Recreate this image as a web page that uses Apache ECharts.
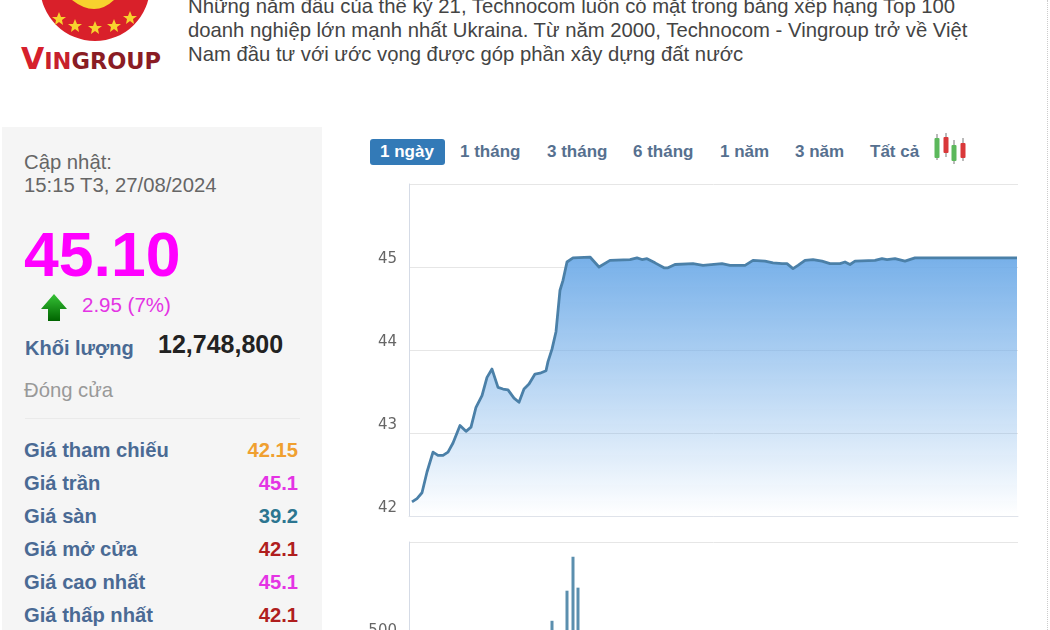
<!DOCTYPE html>
<html lang="vi">
<head>
<meta charset="utf-8">
<script src="https://cdn.jsdelivr.net/npm/echarts@6/dist/echarts.min.js"></script>
<style>
html,body{margin:0;padding:0;width:1050px;height:630px;overflow:hidden;background:#fff;font-family:"Liberation Sans",Arial,sans-serif}
.t{position:absolute;white-space:nowrap;line-height:1}
#panel{position:absolute;left:2px;top:127px;width:320px;height:503px;background:#f5f5f5}
#chart{position:absolute;left:0;top:0;width:1050px;height:760px}
#dots{position:absolute;left:1047px;top:0;height:630px;border-left:1px dotted #ccc}
#rule{position:absolute;left:25px;top:418px;width:275px;border-top:1px solid #eaeaea}
#btn{position:absolute;left:370px;top:139px;width:75px;height:26px;background:#337ab7;border-radius:3px}
.lbl{font-weight:bold;font-size:20.2px;color:#4a6a94}
.val{font-weight:bold;font-size:20.2px;text-align:right;right:752px}
.tab{font-weight:bold;font-size:17px;color:#56708f;top:143px}
</style>
</head>
<body>
<svg style="position:absolute;left:0;top:0" width="180" height="50">
  <circle cx="95" cy="-14" r="55" fill="#d9202a"/>
  <path d="M72 0 Q95 18 114 0 L112 -4 L74 -4Z" fill="#f7d22e"/>
  <g fill="#f7d22e">
    <polygon points="59,12 61,17 66,17 62,20 63,25 59,22 55,25 56,20 52,17 57,17"/>
    <polygon points="75,19 77,24 82,24 78,27 79,32 75,29 71,32 72,27 68,24 73,24"/>
    <polygon points="95,21 97,26 102,26 98,29 99,34 95,31 91,34 92,29 88,26 93,26"/>
    <polygon points="114,19 116,24 121,24 117,27 118,32 114,29 110,32 111,27 107,24 112,24"/>
    <polygon points="130,11 132,16 137,16 133,19 134,24 130,21 126,24 127,19 123,16 128,16"/>
  </g>
</svg>
<div class="t" style="left:21px;top:44px;font-weight:bold;font-family:'DejaVu Sans',sans-serif;font-size:30px;color:#c8202c"><span style="color:#d6202c">V</span><span style="font-size:22.5px;color:#c8202c">IN</span><span style="font-size:22.5px;color:#8a1c24">GROUP</span></div>
<div class="t" style="left:188px;top:-4px;font-size:20.3px;color:#444">Những năm đầu của thế kỷ 21, Technocom luôn có mặt trong bảng xếp hạng Top 100</div>
<div class="t" style="left:188px;top:20px;font-size:20.3px;color:#444">doanh nghiệp lớn mạnh nhất Ukraina. Từ năm 2000, Technocom - Vingroup trở về Việt</div>
<div class="t" style="left:188px;top:44px;font-size:20.3px;color:#444">Nam đầu tư với ước vọng được góp phần xây dựng đất nước</div>

<div id="panel"></div>
<div id="dots"></div>
<div class="t" style="left:24px;top:152px;font-size:20.3px;color:#666">Cập nhật:</div>
<div class="t" style="left:24px;top:175px;font-size:20.3px;color:#666">15:15 T3, 27/08/2024</div>
<div class="t" style="left:24px;top:223px;font-size:62.5px;font-weight:bold;color:#ff00ff">45.10</div>
<svg style="position:absolute;left:40px;top:292px" width="28" height="30"><defs><linearGradient id="g" x1="0" y1="0" x2="0" y2="1"><stop offset="0" stop-color="#36c236"/><stop offset="1" stop-color="#006400"/></linearGradient></defs><path d="M14 2 L27 17 L20 17 L20 29 L8 29 L8 17 L1 17 Z" fill="url(#g)"/></svg>
<div class="t" style="left:82px;top:295px;font-size:20.5px;color:#e433e4">2.95 (7%)</div>
<div class="t lbl" style="left:25px;top:338px;font-size:20px">Khối lượng</div>
<div class="t" style="left:158px;top:332px;font-size:25px;font-weight:bold;color:#222">12,748,800</div>
<div class="t" style="left:24px;top:380px;font-size:20.3px;color:#999">Đóng cửa</div>
<div id="rule"></div>
<div class="t lbl" style="left:24px;top:440px">Giá tham chiếu</div><div class="t val" style="top:440px;color:#f0a030">42.15</div>
<div class="t lbl" style="left:24px;top:473px">Giá trần</div><div class="t val" style="top:473px;color:#e433e4">45.1</div>
<div class="t lbl" style="left:24px;top:506px">Giá sàn</div><div class="t val" style="top:506px;color:#2c7590">39.2</div>
<div class="t lbl" style="left:24px;top:539px">Giá mở cửa</div><div class="t val" style="top:539px;color:#b01e1e">42.1</div>
<div class="t lbl" style="left:24px;top:572px">Giá cao nhất</div><div class="t val" style="top:572px;color:#e433e4">45.1</div>
<div class="t lbl" style="left:24px;top:605px">Giá thấp nhất</div><div class="t val" style="top:605px;color:#b01e1e">42.1</div>

<div id="btn"></div>
<div class="t tab" style="left:380px;color:#fff">1 ngày</div>
<div class="t tab" style="left:460px">1 tháng</div>
<div class="t tab" style="left:547px">3 tháng</div>
<div class="t tab" style="left:633px">6 tháng</div>
<div class="t tab" style="left:720px">1 năm</div>
<div class="t tab" style="left:795px">3 năm</div>
<div class="t tab" style="left:870px">Tất cả</div>
<svg style="position:absolute;left:930px;top:130px" width="40" height="36">
  <g stroke="#777" stroke-width="1"><line x1="7" y1="4" x2="7" y2="30"/><line x1="16" y1="3" x2="16" y2="27"/><line x1="24" y1="10" x2="24" y2="34"/><line x1="33" y1="8" x2="33" y2="31"/></g>
  <rect x="4.5" y="8" width="5" height="20" rx="1" fill="#5cb85c"/><rect x="13.5" y="7" width="5" height="16" rx="1" fill="#d9383a"/><rect x="21.5" y="15" width="5" height="16" rx="1" fill="#5cb85c"/><rect x="30.5" y="13" width="5" height="15" rx="1" fill="#d9383a"/>
</svg>
<div id="chart"></div>
<script>
// Session position of each reading (left edge of plot = 0)
const priceTime = [3,8,13,18,24,29,34,39,44,51,57,62,67,73,78,83,89,94,99,105,110,115,120,126,131,137,139,143,147,151,154,158,164,181,190,201,221,228,233,238,246,255,259,266,284,294,313,321,336,344,356,364,373,378,384,389,396,404,413,421,431,436,441,446,466,473,478,486,496,506,514,608];
const prices = [42.17,42.21,42.28,42.53,42.77,42.73,42.73,42.77,42.88,43.09,43.02,43.07,43.31,43.45,43.67,43.77,43.55,43.53,43.52,43.42,43.37,43.53,43.59,43.71,43.72,43.75,43.86,44.01,44.22,44.72,44.84,45.06,45.11,45.12,45.00,45.08,45.09,45.11,45.09,45.10,45.05,44.99,44.99,45.03,45.04,45.02,45.04,45.02,45.02,45.08,45.07,45.05,45.04,45.04,44.98,45.02,45.08,45.09,45.07,45.04,45.04,45.06,45.03,45.07,45.08,45.10,45.09,45.10,45.07,45.11,45.11,45.11];
const volumeTime = [143,158,164,169];
const volumes = [590,739,907,754];
const priceTicks = {min:42,max:46,interval:1};
const volumeTicks = {min:0,max:980,interval:500};

const chart = echarts.init(document.getElementById('chart'),null,{renderer:'canvas'});
const label = {color:'#666',fontSize:15,fontFamily:'DejaVu Sans',verticalAlign:'bottom',margin:12,showMaxLabel:false};
chart.setOption({
  backgroundColor:'transparent',animation:false,
  grid:[
    {left:409,top:184,width:609,height:332},
    {left:409,top:542,width:609,height:198}
  ],
  xAxis:[0,1].map(i=>({type:'value',gridIndex:i,min:0,max:609,axisLabel:{show:false},axisTick:{show:false},splitLine:{show:false},axisLine:{show:true,lineStyle:{color:'#dfe3ea'}}})),
  yAxis:[
    {type:'value',gridIndex:0,...priceTicks,axisLabel:label,axisTick:{show:false},axisLine:{show:true,lineStyle:{color:'#d5dbe6'}},splitLine:{lineStyle:{color:'#e6e6e6'}}},
    {type:'value',gridIndex:1,...volumeTicks,axisLabel:label,axisTick:{show:false},axisLine:{show:true,lineStyle:{color:'#d5dbe6'}},splitLine:{lineStyle:{color:'#e6e6e6'}}}
  ],
  series:[
    {type:'line',xAxisIndex:0,yAxisIndex:0,symbol:'none',smooth:false,
     data:priceTime.map((t,i)=>[t,prices[i]]),
     lineStyle:{color:'#4b80a8',width:2.8,join:'round'},
     areaStyle:{origin:'start',opacity:1,color:new echarts.graphic.LinearGradient(0,0,0,1,[{offset:0,color:'rgba(112,172,232,.95)'},{offset:1,color:'rgba(112,172,232,0)'}])}},
    {type:'bar',xAxisIndex:1,yAxisIndex:1,barWidth:3,
     data:volumeTime.map((t,i)=>[t,volumes[i]]),
     itemStyle:{color:'#5b8fae'}}
  ]
});
</script>
</body>
</html>
